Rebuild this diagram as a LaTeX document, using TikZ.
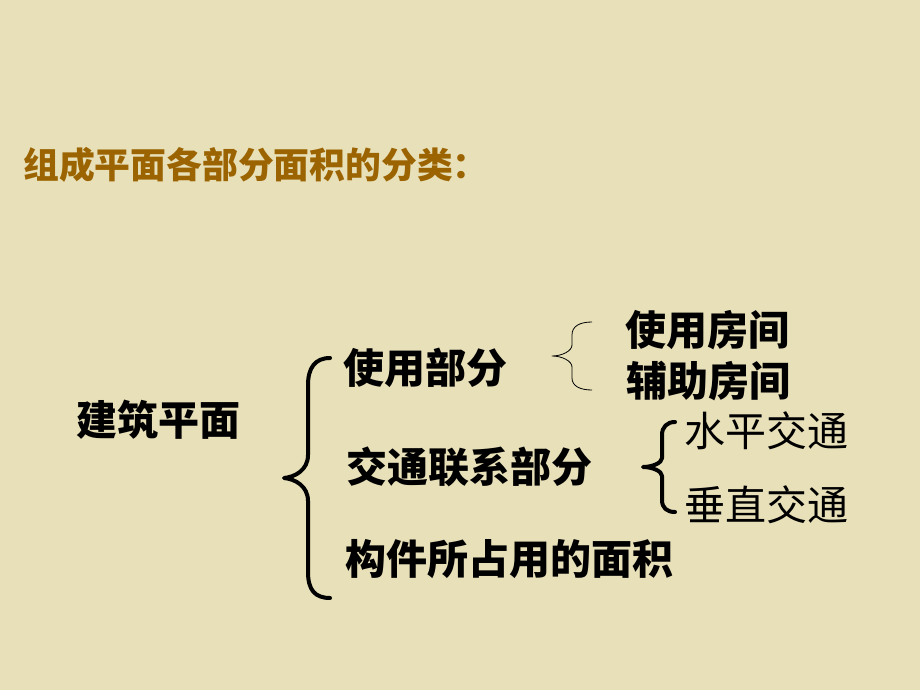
\documentclass[tikz,border=0pt]{standalone}
\usepackage{fontspec}
\newfontfamily\cjk{Noto Sans CJK SC}
\usetikzlibrary{positioning}
\definecolor{slidebg}{RGB}{232,224,185}
\definecolor{titlebrown}{RGB}{155,100,0}
\tikzset{
  every node/.style={inner sep=0pt, anchor=west, text=black, font=\cjk\bfseries\fontsize{41}{45}\selectfont},
  plain item/.style={font=\cjk\fontsize{41}{45}\selectfont},
  big brace/.style={draw=black, line width=4pt, line cap=round, line join=round},
  small brace/.style={draw=black, line width=0.8pt, line join=round}
}

\begin{document}
\begin{tikzpicture}[x=1pt, y=-1pt]
  % Background
  \fill[slidebg] (0,0) rectangle (920,690);
  \useasboundingbox (0,0) rectangle (920,690);

  % Nodes
  \node (title) [text=titlebrown, font=\cjk\bfseries\fontsize{35.8}{40}\selectfont] at (23,165) {组成平面各部分面积的分类：};
  \node (building) at (76,420) {建筑平面};
  \node (usepart) at (343,368) {使用部分};
  \node (traffic) at (346,467) {交通联系部分};
  \node (members) at (345,559) {构件所占用的面积};
  \node (userooms) at (625,330) {使用房间};
  \node (auxrooms) at (626,381) {辅助房间};
  \node (horiz) [plain item] at (684,431) {水平交通};
  \node (vert) [plain item] at (684,505) {垂直交通};

  % Braces
  \draw[big brace] (330,358) .. controls (315,358) and (308,368) .. (308,385) -- (308,455)
    .. controls (308,470) and (295,477) .. (284,478)
    .. controls (295,479) and (308,486) .. (308,501) -- (308,572)
    .. controls (308,590) and (315,598) .. (330,598);
  \draw[small brace] (592,322) .. controls (580,322) and (572,326) .. (572,335) -- (572,345)
    .. controls (572,351) and (562,356) .. (552,356)
    .. controls (562,356) and (572,361) .. (572,367) -- (572,378)
    .. controls (572,386) and (580,390) .. (592,390);
  \draw[big brace] (675,422) .. controls (667,422) and (662,427) .. (662,435) -- (662,458)
    .. controls (662,463) and (652,467) .. (643,467)
    .. controls (652,467) and (662,471) .. (662,476) -- (662,500)
    .. controls (662,508) and (667,512) .. (675,512);
\end{tikzpicture}
\end{document}
